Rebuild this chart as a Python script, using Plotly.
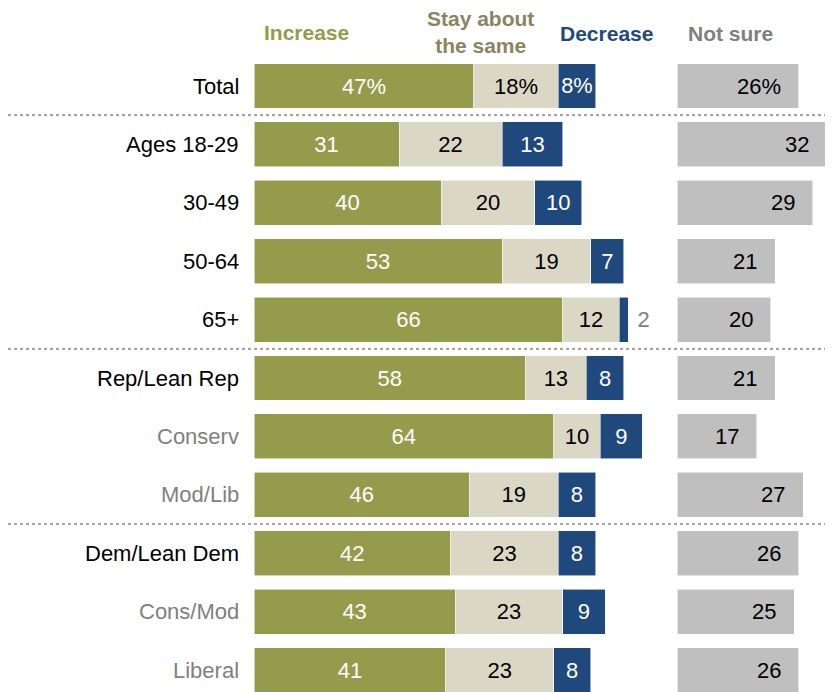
import plotly.graph_objects as go

categories = ["Total", "Ages 18-29", "30-49", "50-64", "65+", "Rep/Lean Rep",
              "Conserv", "Mod/Lib", "Dem/Lean Dem", "Cons/Mod", "Liberal"]
sub_groups = ["Conserv", "Mod/Lib", "Cons/Mod", "Liberal"]
increase = [47, 31, 40, 53, 66, 58, 64, 46, 42, 43, 41]
stay_same = [18, 22, 20, 19, 12, 13, 10, 19, 23, 23, 23]
decrease = [8, 13, 10, 7, 2, 8, 9, 8, 8, 9, 8]
not_sure = [26, 32, 29, 21, 20, 21, 17, 27, 26, 25, 26]
separators_after = ["Total", "65+", "Mod/Lib"]

C_INC = "#949C4B"
C_STAY = "#DAD7C5"
C_DEC = "#1F497D"
C_NS = "#BFBFBF"
FONT = "Liberation Sans, Arial, sans-serif"
HFONT = "Liberation Sans Narrow, Liberation Sans, Arial, sans-serif"

OFF = 8  # page body margin
W, H = 833 - OFF, 692 - OFF
PX_PER = 4.68
x0_px, x1_px = 254 - OFF, 660 - OFF
x2a_px, x2b_px = 677 - OFF, 825
row0_px, row_step = 86 - OFF, 58.4


def lab(v, cat):
    return f"{v}%" if cat == "Total" else str(v)


fig = go.Figure()
BW = 0.77
line = dict(color="rgba(255,255,255,0.7)", width=0.8)
VS = 22

fig.add_trace(go.Bar(
    y=categories, x=increase, orientation="h", marker=dict(color=C_INC, line=line),
    width=BW, text=[lab(v, c) for v, c in zip(increase, categories)],
    textposition="inside", insidetextanchor="middle", textangle=0,
    insidetextfont=dict(color="white", size=VS, family=FONT),
    hoverinfo="skip", cliponaxis=False))
fig.add_trace(go.Bar(
    y=categories, x=stay_same, orientation="h", marker=dict(color=C_STAY, line=line),
    width=BW, text=[lab(v, c) for v, c in zip(stay_same, categories)],
    textposition="inside", insidetextanchor="middle", textangle=0,
    insidetextfont=dict(color="black", size=VS, family=FONT),
    hoverinfo="skip", cliponaxis=False))
fig.add_trace(go.Bar(
    y=categories, x=decrease, orientation="h", marker=dict(color=C_DEC, line=line),
    width=BW,
    text=[("\u00a0" + lab(v, c)) if v < 4 else lab(v, c) for v, c in zip(decrease, categories)],
    textposition=["outside" if v < 4 else "inside" for v in decrease],
    insidetextanchor="middle", textangle=0,
    insidetextfont=dict(color="white", size=VS, family=FONT),
    outsidetextfont=dict(color="#808080", size=VS, family=FONT),
    hoverinfo="skip", cliponaxis=False))
fig.add_trace(go.Bar(
    y=categories, x=not_sure, orientation="h", marker=dict(color=C_NS, line=line),
    width=BW, xaxis="x2", yaxis="y", hoverinfo="skip", cliponaxis=False))

annotations = []
for c, v in zip(categories, not_sure):
    annotations.append(dict(x=v, y=c, xref="x2", yref="y", text=lab(v, c),
                            showarrow=False, xanchor="right", xshift=-16,
                            font=dict(color="black", size=VS, family=FONT)))
for c in categories:
    annotations.append(dict(x=(241 - OFF) / W, y=c, xref="paper", yref="y", text=c,
                            showarrow=False, xanchor="right",
                            font=dict(color="#808080" if c in sub_groups else "black",
                                      size=22, family=FONT)))

headers = [("<b>Increase</b>", 306, 32, C_INC),
           ("<b>Stay about<br>the same</b>", 480, 32, "#8C8460"),
           ("<b>Decrease</b>", 606, 33, C_DEC),
           ("<b>Not sure</b>", 730, 34, "#808080")]
for t, xp, yp, col in headers:
    annotations.append(dict(x=(xp - OFF) / W, y=1 - (yp - OFF) / H, xref="paper", yref="paper",
                            text=t, showarrow=False, xanchor="center", yanchor="middle",
                            font=dict(color=col, size=21, family=HFONT)))

shapes = []
for s in separators_after:
    yv = categories.index(s) + 0.5
    shapes.append(dict(type="line", xref="paper", yref="y", x0=0, x1=1, y0=yv, y1=yv,
                       line=dict(color="#A6A6A6", width=2.2, dash="dot")))

y_top = -row0_px / row_step
y_bot = (H - row0_px) / row_step

fig.update_layout(
    width=W, height=H, barmode="stack", showlegend=False,
    margin=dict(l=0, r=0, t=0, b=0), paper_bgcolor="white", plot_bgcolor="white",
    uniformtext=dict(mode="show", minsize=VS),
    xaxis=dict(domain=[x0_px / W, x1_px / W], range=[0, (x1_px - x0_px) / PX_PER],
               visible=False, fixedrange=True),
    xaxis2=dict(domain=[x2a_px / W, x2b_px / W], range=[0, (x2b_px - x2a_px) / PX_PER],
                visible=False, fixedrange=True, anchor="y"),
    yaxis=dict(type="category", categoryorder="array", categoryarray=categories,
               range=[y_bot, y_top], visible=False, fixedrange=True),
    annotations=annotations, shapes=shapes,
    font=dict(family=FONT),
)

fig.write_html("out.html")
